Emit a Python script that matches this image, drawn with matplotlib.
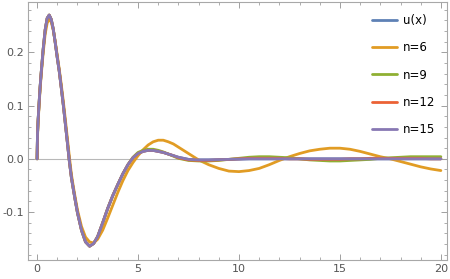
import numpy as np
import matplotlib
matplotlib.use("Agg")
import matplotlib.pyplot as plt
from matplotlib.ticker import MultipleLocator, FixedLocator, FixedFormatter

# sample positions
x = [0, 0.02, 0.05, 0.1, 0.15, 0.2, 0.3, 0.4, 0.5, 0.6, 0.7, 0.8, 0.9, 1.0,
     1.1, 1.2, 1.3, 1.4, 1.5, 1.6, 1.7, 1.8, 1.9, 2.0,
     2.2, 2.4, 2.6, 2.8, 3.0,
     3.25, 3.5, 3.75, 4.0, 4.25, 4.5, 4.75,
     5.0, 5.25, 5.5, 5.75, 6.0, 6.25, 6.5, 6.75, 7.0,
     7.5, 8, 8.5, 9, 9.5, 10, 10.5, 11, 11.5, 12, 12.5, 13, 13.5,
     14, 14.5, 15, 15.5, 16, 16.5, 17, 17.5, 18, 18.5, 19, 19.5, 20]

u = [0, 0.045, 0.072, 0.105, 0.135, 0.16, 0.205, 0.242, 0.264, 0.27, 0.262,
     0.244, 0.218, 0.19,
     0.164, 0.133, 0.101, 0.066, 0.031, -0.005, -0.035, -0.058, -0.08, -0.101,
     -0.134, -0.156, -0.164, -0.159, -0.146,
     -0.12, -0.093, -0.069, -0.048, -0.028, -0.011, 0.002,
     0.01, 0.014, 0.016, 0.0158, 0.014, 0.012, 0.009, 0.006, 0.003,
     -0.001, -0.002, -0.002, -0.0015, -0.001, -0.0005, 0, 0, 0, 0, 0, 0, 0,
     0, 0, 0, 0, 0, 0, 0, 0, 0, 0, 0, 0, 0]

n6 = [0, 0.04, 0.068, 0.1, 0.13, 0.155, 0.198, 0.234, 0.255, 0.262, 0.257,
      0.242, 0.22, 0.194,
      0.168, 0.139, 0.108, 0.074, 0.039, 0.004, -0.029, -0.053, -0.075, -0.096,
      -0.127, -0.147, -0.156, -0.158, -0.151,
      -0.134, -0.111, -0.087, -0.063, -0.041, -0.022, -0.007,
      0.006, 0.017, 0.026, 0.032, 0.035, 0.035, 0.032, 0.028, 0.022,
      0.01, -0.002, -0.011, -0.018, -0.023, -0.024, -0.022, -0.018, -0.011,
      -0.003, 0.004, 0.010, 0.015, 0.018, 0.020, 0.020, 0.018, 0.014, 0.009,
      0.004, 0.0, -0.005, -0.010, -0.015, -0.019, -0.022]

n9 = [0, 0.045, 0.072, 0.105, 0.135, 0.16, 0.205, 0.242, 0.264, 0.27, 0.262,
      0.244, 0.218, 0.19,
      0.164, 0.133, 0.101, 0.066, 0.031, -0.005, -0.035, -0.058, -0.08, -0.101,
      -0.134, -0.156, -0.164, -0.159, -0.146,
      -0.12, -0.093, -0.069, -0.048, -0.028, -0.011, 0.003,
      0.012, 0.016, 0.018, 0.018, 0.016, 0.013, 0.009, 0.005, 0.001,
      -0.003, -0.004, -0.004, -0.003, -0.001, 0.001, 0.003, 0.004, 0.004,
      0.003, 0.002, 0.0, -0.002, -0.003, -0.004, -0.004, -0.003, -0.002,
      -0.001, 0.001, 0.002, 0.003, 0.004, 0.004, 0.004, 0.004]

n12 = [0, 0.045, 0.072, 0.105, 0.135, 0.16, 0.205, 0.242, 0.264, 0.27, 0.262,
       0.244, 0.218, 0.19,
       0.164, 0.133, 0.101, 0.066, 0.031, -0.005, -0.035, -0.058, -0.08,
       -0.101,
       -0.134, -0.156, -0.164, -0.159, -0.146,
       -0.12, -0.093, -0.069, -0.048, -0.028, -0.011, 0.002,
       0.01, 0.014, 0.016, 0.0158, 0.014, 0.012, 0.009, 0.006, 0.002,
       -0.002, -0.003, -0.003, -0.002, -0.001, 0.0, 0.001, 0.001, 0.001,
       0.001, 0.0, 0.0, -0.001, -0.001, -0.001, -0.001, 0.0, 0.0, 0.001,
       0.001, 0.001, 0.001, 0.001, 0.001, 0.0, 0.0]

n15 = [0, 0.045, 0.072, 0.105, 0.135, 0.16, 0.205, 0.242, 0.264, 0.27, 0.262,
       0.244, 0.218, 0.19,
       0.164, 0.133, 0.101, 0.066, 0.031, -0.005, -0.035, -0.058, -0.08,
       -0.101,
       -0.134, -0.156, -0.164, -0.159, -0.146,
       -0.12, -0.093, -0.069, -0.048, -0.028, -0.011, 0.002,
       0.01, 0.014, 0.016, 0.0158, 0.014, 0.012, 0.009, 0.006, 0.003,
       -0.001, -0.002, -0.002, -0.0015, -0.001, -0.0005, 0, 0, 0, 0, 0, 0, 0,
       0, 0, 0, 0, 0, 0, 0, 0, 0, 0, 0, 0, 0]

labels = ["u(x)", "n=6", "n=9", "n=12", "n=15"]
colors = ["#5E81B5", "#E19C24", "#8FB032", "#EB6235", "#8778B3"]

fig = plt.figure(figsize=(4.5, 2.79), dpi=100)
ax = fig.add_axes([0.0622, 0.068, 0.931, 0.925])

ax.axhline(0, color="#b8b8b8", lw=0.8, zorder=1)
for ys, lab, c in zip([u, n6, n9, n12, n15], labels, colors):
    ax.plot(x, ys, color=c, lw=2.0, label=lab, solid_capstyle="round",
            solid_joinstyle="round", zorder=2)

ax.set_xlim(-0.45, 20.3)
ax.set_ylim(-0.19, 0.2946)

ax.xaxis.set_major_locator(FixedLocator([0, 5, 10, 15, 20]))
ax.xaxis.set_major_formatter(FixedFormatter(["0", "5", "10", "15", "20"]))
ax.xaxis.set_minor_locator(MultipleLocator(1))
ax.yaxis.set_major_locator(FixedLocator([-0.1, 0.0, 0.1, 0.2]))
ax.yaxis.set_major_formatter(FixedFormatter(["-0.1", "0.0", "0.1", "0.2"]))
ax.yaxis.set_minor_locator(MultipleLocator(0.02))

for s in ax.spines.values():
    s.set_color("#a8a8a8")
    s.set_linewidth(0.8)
ax.tick_params(which="both", direction="in", top=True, right=True,
               color="#a0a0a0", labelcolor="#555555", labelsize=8, pad=3)
ax.tick_params(which="major", length=4, width=0.7)
ax.tick_params(which="minor", length=2, width=0.6)

leg = ax.legend(loc="upper right", frameon=False, fontsize=8.5,
                handlelength=2.1, handletextpad=0.5, labelspacing=1.22,
                borderaxespad=0.6)
for h in leg.get_lines():
    h.set_linewidth(2.0)

fig.savefig("out.png", dpi=100)
